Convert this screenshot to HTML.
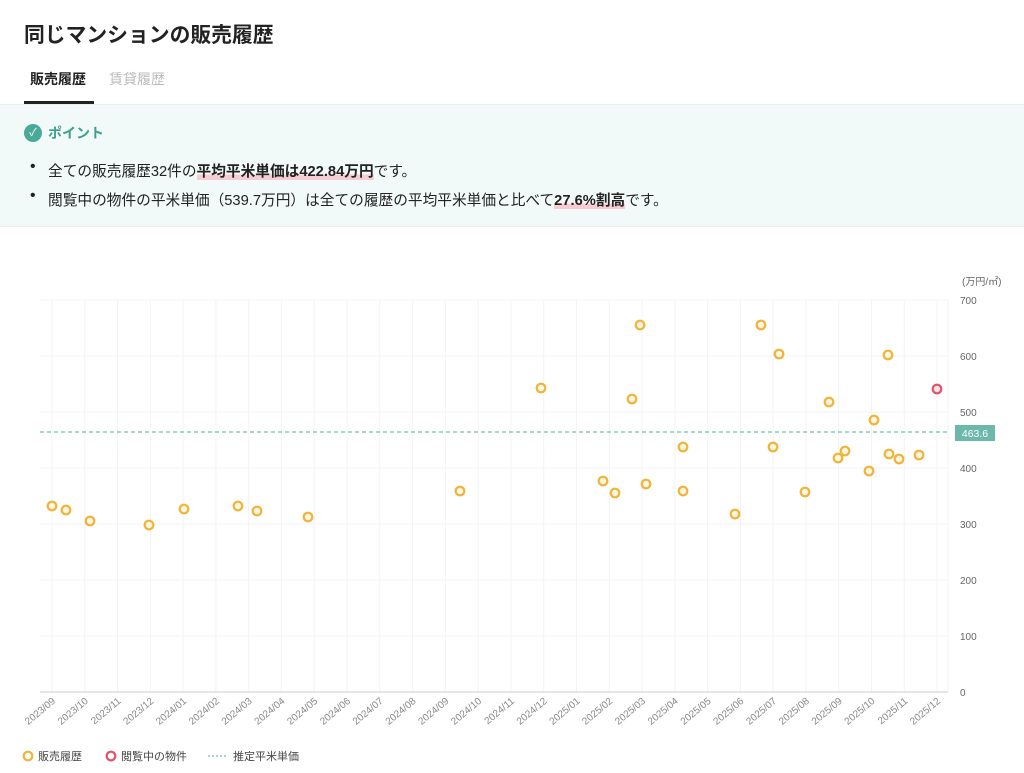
<!DOCTYPE html>
<html><head><meta charset="utf-8"><style>
body{margin:0;width:1024px;height:773px;background:#fff;font-family:"Liberation Sans","Noto Sans CJK JP",sans-serif;color:#222;overflow:hidden;position:relative}
.t{position:absolute;left:24px;top:18px;font-size:20.8px;font-weight:bold}
.tab{position:absolute;top:69px;font-size:14px}
.pt{position:absolute;left:0;top:104px;width:1024px;height:121px;background:#f1faf8;border-top:1px solid #e4eeec;border-bottom:1px solid #e4eeec}
.hl{font-weight:bold;background:linear-gradient(transparent 65%,#f6cdd3 65%)}
li{position:absolute;left:30px;font-size:14.7px;list-style:none}
li:before{content:"•";position:absolute;left:0px;font-size:16px;top:-2px}
li span.x{margin-left:18px}
</style></head><body>
<div class="t">同じマンションの販売履歴</div>
<div class="tab" style="left:30px;font-weight:bold">販売履歴</div>
<div class="tab" style="left:109px;color:#bbb">賃貸履歴</div>
<div style="position:absolute;left:24px;top:101px;width:70px;height:3px;background:#222"></div>
<div class="pt">
<div style="position:absolute;left:24px;top:19px;width:18px;height:18px;border-radius:50%;background:#4aaa98;color:#fff;font-size:11px;text-align:center;line-height:18px">✓</div>
<div style="position:absolute;left:48px;top:18px;font-size:14px;color:#3aa08c;font-weight:bold">ポイント</div>
<li style="top:55px"><span class="x">全ての販売履歴32件の<span class="hl">平均平米単価は422.84万円</span>です。</span></li>
<li style="top:84px"><span class="x">閲覧中の物件の平米単価（539.7万円）は全ての履歴の平均平米単価と比べて<span class="hl">27.6%割高</span>です。</span></li>
</div>
<svg width="1024" height="773" style="position:absolute;left:0;top:0" font-family="Liberation Sans,Noto Sans CJK JP,sans-serif">
<g stroke="#f3f3f3" stroke-width="1" id="g"></g>
<text x="962" y="285" font-size="10" fill="#666">(万円/㎡)</text>
<g font-size="10" fill="#666" id="yl"></g>
<line x1="40" y1="692" x2="948" y2="692" stroke="#ddd" stroke-width="1.5"/>
<line x1="40" y1="432" x2="950" y2="432" stroke="#6cc0b0" stroke-width="1.3" stroke-dasharray="4,3"/>
<rect x="955" y="425" width="40" height="16" fill="#6cb8aa"/>
<text x="975" y="437" font-size="10.5" fill="#fff" text-anchor="middle">463.6</text>
<g font-size="10" fill="#888" id="xl"></g>
<g fill="#fdf5df" stroke="#efb43a" stroke-width="2.2" id="pts"></g>
<circle cx="937" cy="389" r="4.3" fill="#fbe3e6" stroke="#e2536a" stroke-width="2.2"/>
<circle cx="28" cy="756" r="4.3" fill="#fff" stroke="#efb43a" stroke-width="2.2"/>
<text x="38" y="760" font-size="11" fill="#444">販売履歴</text>
<circle cx="111" cy="756" r="4.3" fill="#fff" stroke="#e2536a" stroke-width="2.2"/>
<text x="121" y="760" font-size="11" fill="#444">閲覧中の物件</text>
<line x1="208" y1="756" x2="226" y2="756" stroke="#6cc0b0" stroke-width="1.3" stroke-dasharray="2,2"/>
<text x="233" y="760" font-size="11" fill="#444">推定平米単価</text>
</svg>
<script>
var ns="http://www.w3.org/2000/svg";function el(p,t,a,tx){var e=document.createElementNS(ns,t);for(var k in a)e.setAttribute(k,a[k]);if(tx)e.textContent=tx;document.getElementById(p).appendChild(e);}
for(var i=0;i<8;i++){var y=692-i*56;el("g","line",{x1:40,x2:948,y1:y,y2:y});el("yl","text",{x:960,y:y+4},""+i*100);}
var lab=[];for(var m=9;m<=12;m++)lab.push("2023/"+(m<10?"0":"")+m);for(var m=1;m<=12;m++)lab.push("2024/"+(m<10?"0":"")+m);for(var m=1;m<=12;m++)lab.push("2025/"+(m<10?"0":"")+m);
for(var i=0;i<lab.length;i++){var x=52+i*32.78;el("g","line",{x1:x,x2:x,y1:300,y2:692});el("xl","text",{x:x+4,y:702,"text-anchor":"end",transform:"rotate(-40 "+(x+4)+" 702)"},lab[i]);}
el("g","line",{x1:948,x2:948,y1:300,y2:692});
var p=[[52,506],[66,510],[90,521],[149,525],[184,509],[238,506],[257,511],[308,517],[460,491],[541,388],[603,481],[615,493],[632,399],[640,325],[646,484],[683,447],[683,491],[735,514],[761,325],[773,447],[779,354],[805,492],[829,402],[838,458],[845,451],[869,471],[874,420],[888,355],[889,454],[899,459],[919,455]];
p.forEach(function(q){el("pts","circle",{cx:q[0],cy:q[1],r:4.3});});
</script>
</body></html>
